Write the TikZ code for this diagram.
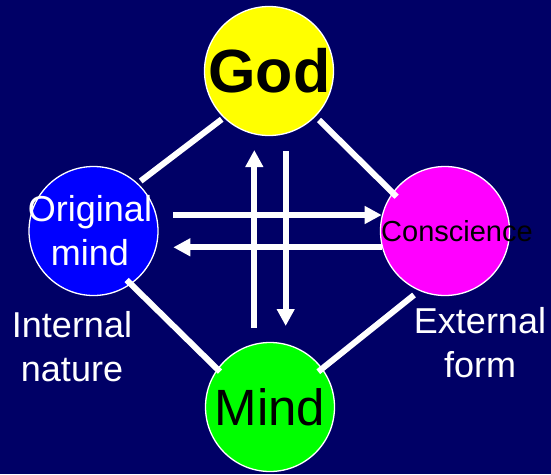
\documentclass[tikz,border=0pt]{standalone}
\usepackage{fontspec}
\setmainfont{Liberation Sans}
\usetikzlibrary{arrows.meta}
\definecolor{navybg}{RGB}{0,0,102}
\definecolor{godyellow}{RGB}{255,255,0}
\definecolor{omblue}{RGB}{0,0,255}
\definecolor{conmag}{RGB}{255,0,255}
\definecolor{mindgreen}{RGB}{0,255,0}
\tikzset{
  ball/.style={circle, draw=white, line width=1.3pt, minimum size=129pt, inner sep=0pt},
  link/.style={draw=white, line width=6pt},
  flow/.style={draw=white, line width=6pt, -{Triangle[width=17pt,length=17pt]}},
  whitetext/.style={text=white, align=center, inner sep=0pt, font=\fontsize{36}{44}\selectfont},
}
\begin{document}
\begin{tikzpicture}[x=1pt,y=-1pt]
\fill[navybg] (0,0) rectangle (551,474);
\useasboundingbox (0,0) rectangle (551,474);
% circles
\node[ball, fill=godyellow] (god) at (269,71) {};
\node[ball, fill=omblue] (om) at (93.5,231) {};
\node[ball, fill=conmag] (con) at (445,231) {};
\node[ball, fill=mindgreen] (mind) at (270,407) {};
% texts
\node[inner sep=0pt, font=\fontsize{61}{61}\selectfont\bfseries] (godt) at (269.5,71) {God};
\node[inner sep=0pt, font=\fontsize{51}{51}\selectfont] (mindt) at (270,407) {Mind};
\node[whitetext] (omt) at (90,231) {Original\\mind};
\node[inner sep=0pt, font=\fontsize{29}{29}\selectfont] (cont) at (457,231) {Conscience};
\node[whitetext] (inner) at (72,347) {Internal\\nature};
\node[whitetext] (outer) at (480,343) {External\\form};
% link end points
\coordinate (g1) at (221.7,119.3);
\coordinate (o1) at (140.7,181);
\coordinate (g2) at (319,120);
\coordinate (c1) at (396.7,196.7);
\coordinate (o2) at (126.7,280);
\coordinate (m1) at (220,371.7);
\coordinate (c2) at (414,295);
\coordinate (m2) at (318.3,371.7);
\draw[link] (g1) -- (o1);
\draw[link] (g2) -- (c1);
\draw[link] (o2) -- (m1);
\draw[link] (c2) -- (m2);
% arrows
\coordinate (ua) at (254.3,328);
\coordinate (ub) at (254.3,150);
\coordinate (da) at (285.7,151);
\coordinate (db) at (285.7,326);
\coordinate (ra) at (173.3,215);
\coordinate (rb) at (381.7,215);
\coordinate (la) at (381.7,247.3);
\coordinate (lb) at (173.3,247.3);
\draw[flow] (ra) -- (rb);
\draw[flow] (la) -- (lb);
\draw[flow] (ua) -- (ub);
\draw[flow] (da) -- (db);
\end{tikzpicture}
\end{document}
